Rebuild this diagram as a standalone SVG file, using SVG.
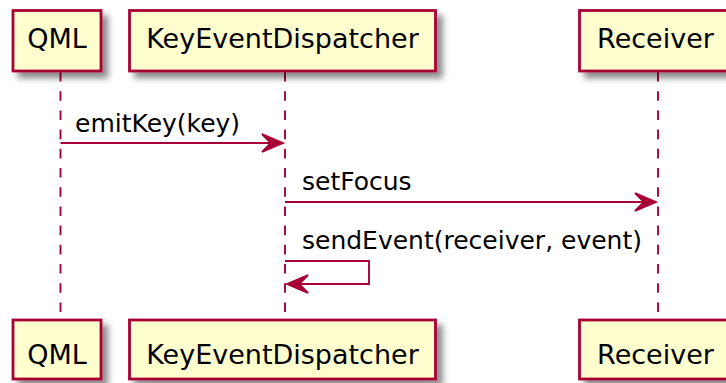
<svg xmlns="http://www.w3.org/2000/svg" width="726" height="383" viewBox="0 0 726 383">
<defs>
<filter id="sh" x="-20%" y="-20%" width="150%" height="160%">
<feGaussianBlur in="SourceAlpha" stdDeviation="3"/>
<feOffset dx="6" dy="6" result="b"/>
<feComponentTransfer><feFuncA type="linear" slope="0.45"/></feComponentTransfer>
<feMerge><feMergeNode/><feMergeNode in="SourceGraphic"/></feMerge>
</filter>
</defs>
<style>
.box{fill:#FEFECE;stroke:#A80036;stroke-width:2.8;filter:url(#sh)}
.pt{font-family:"DejaVu Sans",sans-serif;font-size:27px;fill:#000;text-anchor:middle}
.life{stroke:#A80036;stroke-width:1.9;stroke-dasharray:9.6,9.6;fill:none}
.msg{stroke:#A80036;stroke-width:1.9;fill:none}
.head{fill:#A80036;stroke:#A80036;stroke-width:1.9}
.mt{font-family:"DejaVu Sans",sans-serif;font-size:25px;fill:#000}
</style>
<g id="lifelines">
<line class="life" x1="60.5" y1="72" x2="60.5" y2="319"/>
<line class="life" x1="285" y1="72" x2="285" y2="319"/>
<line class="life" x1="658" y1="72" x2="658" y2="319"/>
</g>
<g id="QML">
<rect class="box" x="13" y="10.5" width="88" height="60.5"/>
<text class="pt" x="57" y="48">QML</text>
<rect class="box" x="13" y="320" width="88" height="59"/>
<text class="pt" x="57" y="364">QML</text>
</g>
<g id="KeyEventDispatcher">
<rect class="box" x="129.5" y="10.5" width="306" height="60.5"/>
<text class="pt" x="282.5" y="48">KeyEventDispatcher</text>
<rect class="box" x="129.5" y="320" width="306" height="59"/>
<text class="pt" x="282.5" y="364">KeyEventDispatcher</text>
</g>
<g id="Receiver">
<rect class="box" x="579.5" y="10.5" width="152" height="60.5"/>
<text class="pt" x="655.5" y="48">Receiver</text>
<rect class="box" x="579.5" y="320" width="152" height="59"/>
<text class="pt" x="655.5" y="364">Receiver</text>
</g>
<g id="connectors">
<line class="msg" x1="60.5" y1="143" x2="282" y2="143"/>
<polygon class="head" points="283,143 262,134 271,143 262,152"/>
<text class="mt" x="75" y="132">emitKey(key)</text>
<line class="msg" x1="285" y1="202" x2="655" y2="202"/>
<polygon class="head" points="656,202 635,193 644,202 635,211"/>
<text class="mt" x="302" y="190">setFocus</text>
<polyline class="msg" points="285,261 369,261 369,284 288,284"/>
<polygon class="head" points="287,284 308,275 299,284 308,293"/>
<text class="mt" x="302" y="249">sendEvent(receiver, event)</text>
</g>
</svg>
